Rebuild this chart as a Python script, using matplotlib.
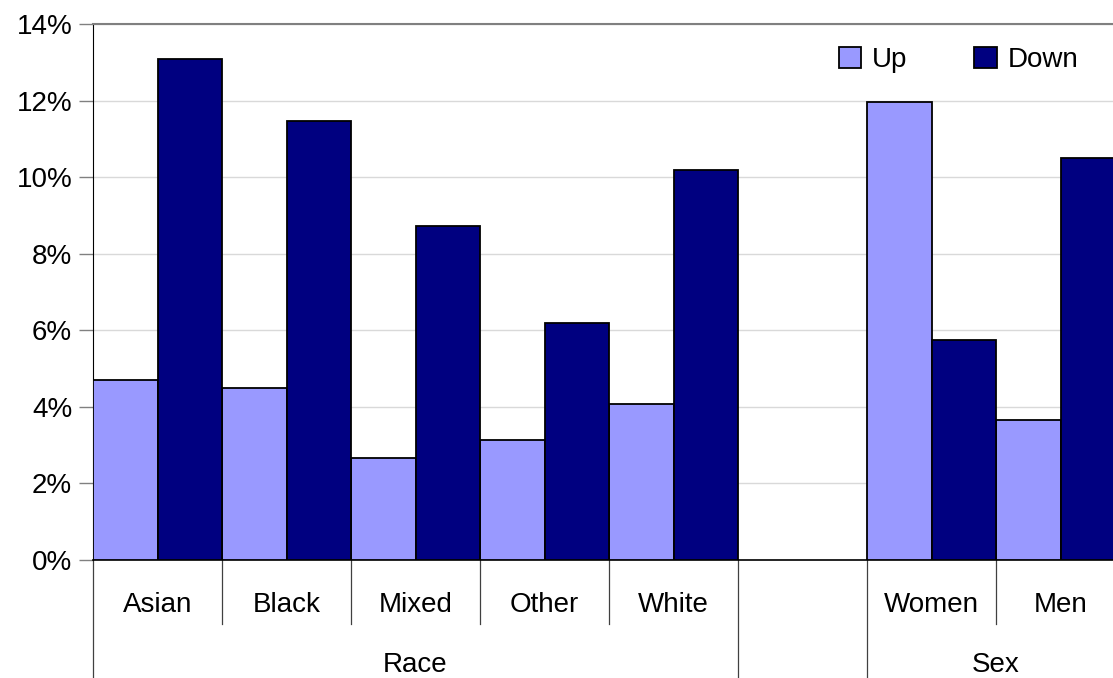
import matplotlib.pyplot as plt
import matplotlib.transforms as mtransforms
import numpy as np

plt.rcParams['font.family'] = ['Liberation Sans', 'DejaVu Sans']

categories = ['Asian', 'Black', 'Mixed', 'Other', 'White', '', 'Women', 'Men']
up_values = [4.7, 4.5, 2.67, 3.13, 4.07, np.nan, 11.97, 3.66]
down_values = [13.08, 11.47, 8.74, 6.18, 10.2, np.nan, 5.76, 10.51]
groups = ['Race', 'Sex']
group_spans = [(0, 4), (6, 7)]

fig = plt.figure(figsize=(11.13, 6.78), dpi=100)
# plot area runs past the right edge of the picture, as in the original
ax = fig.add_axes([93 / 1113, 118 / 678, 1032 / 1113, 535.8 / 678])

x = np.arange(len(categories))
w = 0.5
ax.bar(x - w / 2, up_values, w, color='#9999FF', edgecolor='black', linewidth=1.3, label='Up', zorder=3)
ax.bar(x + w / 2, down_values, w, color='#000080', edgecolor='black', linewidth=1.3, label='Down', zorder=3)

ax.set_xlim(-0.5, len(categories) - 0.5)
ax.set_ylim(0, 14)
ax.set_yticks(np.arange(0, 15, 2))
ax.set_yticklabels([f'{v}%' for v in range(0, 15, 2)], fontsize=20)
ax.tick_params(axis='y', length=10, width=1, pad=5, color='#808080')
ax.set_xticks([])
ax.yaxis.grid(True, color='#D9D9D9', linewidth=1, zorder=0)
ax.set_axisbelow(True)

ax.spines['top'].set_color('#808080')
ax.spines['top'].set_linewidth(1.5)
ax.spines['right'].set_visible(False)
ax.spines['left'].set_color('black')
ax.spines['bottom'].set_color('black')
ax.spines['bottom'].set_linewidth(1.2)

# category and group separators below the axis
trans = mtransforms.blended_transform_factory(ax.transData, ax.transAxes)
short_y = -64 / 535.8
long_y = -118 / 535.8
for b in [0.5, 1.5, 2.5, 3.5, 6.5]:
    ax.plot([b, b], [0, short_y], transform=trans, color='#404040', lw=0.9, clip_on=False)
for b in [-0.5, 4.5, 5.5]:
    ax.plot([b, b], [0, long_y], transform=trans, color='#404040', lw=0.9, clip_on=False)

for i, name in enumerate(categories):
    ax.text(i, -45 / 535.8, name, transform=trans, ha='center', va='center', fontsize=20)
for name, (a, b) in zip(groups, group_spans):
    ax.text((a + b) / 2, -105 / 535.8, name, transform=trans, ha='center', va='center', fontsize=20)

fig.legend(loc='center left', bbox_to_anchor=(814 / 1113, 1 - 60 / 678), ncol=2, frameon=False,
           fontsize=20, handlelength=0.8, handleheight=0.8, handletextpad=0.4, columnspacing=2.4)

fig.savefig('out.png', dpi=100)
